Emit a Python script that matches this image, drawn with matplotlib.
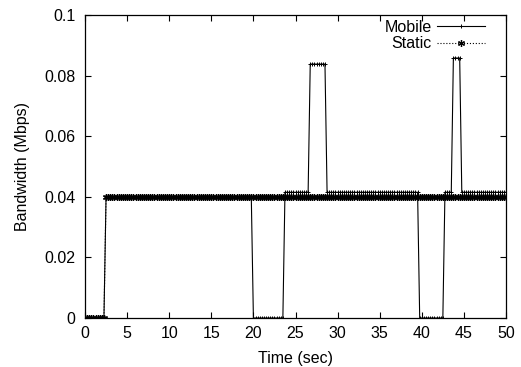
import numpy as np
import matplotlib
matplotlib.use("Agg")
import matplotlib.pyplot as plt
from matplotlib.ticker import FormatStrFormatter

plt.rcParams['font.family'] = ['Liberation Sans', 'DejaVu Sans']

# samples every 0.25 s, 0..50
sample_step = 0.25
n_samples = 201

# run-length encoded bandwidth values (Mbps, number of samples)
mobile_values = [0.0, 0.040, 0.0, 0.0415, 0.0838, 0.0415, 0.0, 0.0415, 0.0858, 0.0415]
mobile_counts = [10, 70, 15, 12, 8, 44, 12, 4, 4, 22]
static_values = [0.0, 0.040]
static_counts = [10, 191]

x_ticks = [0, 5, 10, 15, 20, 25, 30, 35, 40, 45, 50]
y_ticks = [0, 0.02, 0.04, 0.06, 0.08, 0.1]

t = np.arange(n_samples) * sample_step
mobile = np.repeat(mobile_values, mobile_counts)
static = np.repeat(static_values, static_counts)

fs = 11.5
fig = plt.figure(figsize=(5.21, 3.67), dpi=100)
ax = fig.add_axes([85/521, 1 - 318/367, 421/521, 303/367])

ax.plot(t, mobile, '-', color='black', lw=0.8, marker='+', ms=3.5, mew=0.7, label='Mobile')
ax.plot(t, static, ':', color='black', lw=0.8, marker=(6, 2, 0), ms=5, mew=0.9, label='Static')

ax.set_xlim(0, 50)
ax.set_ylim(0, 0.1)
ax.set_xticks(x_ticks)
ax.set_yticks(y_ticks)
ax.yaxis.set_major_formatter(FormatStrFormatter('%g'))
ax.tick_params(direction='in', top=True, right=True, length=4, width=0.8, labelsize=fs)
ax.tick_params(axis='x', pad=6)
ax.tick_params(axis='y', pad=7)
for s in ax.spines.values():
    s.set_linewidth(0.9)

ax.set_xlabel('Time (sec)', fontsize=fs, labelpad=7)
ax.set_ylabel('Bandwidth (Mbps)', fontsize=fs, labelpad=10)

ax.legend(loc='upper right', bbox_to_anchor=(1 - 16/421, 1.0), frameon=False,
          markerfirst=False, numpoints=1, handlelength=3.0, fontsize=fs,
          labelspacing=0.1, borderaxespad=0.1, handletextpad=0.35, borderpad=0.2)

fig.savefig('out.png', dpi=100)
